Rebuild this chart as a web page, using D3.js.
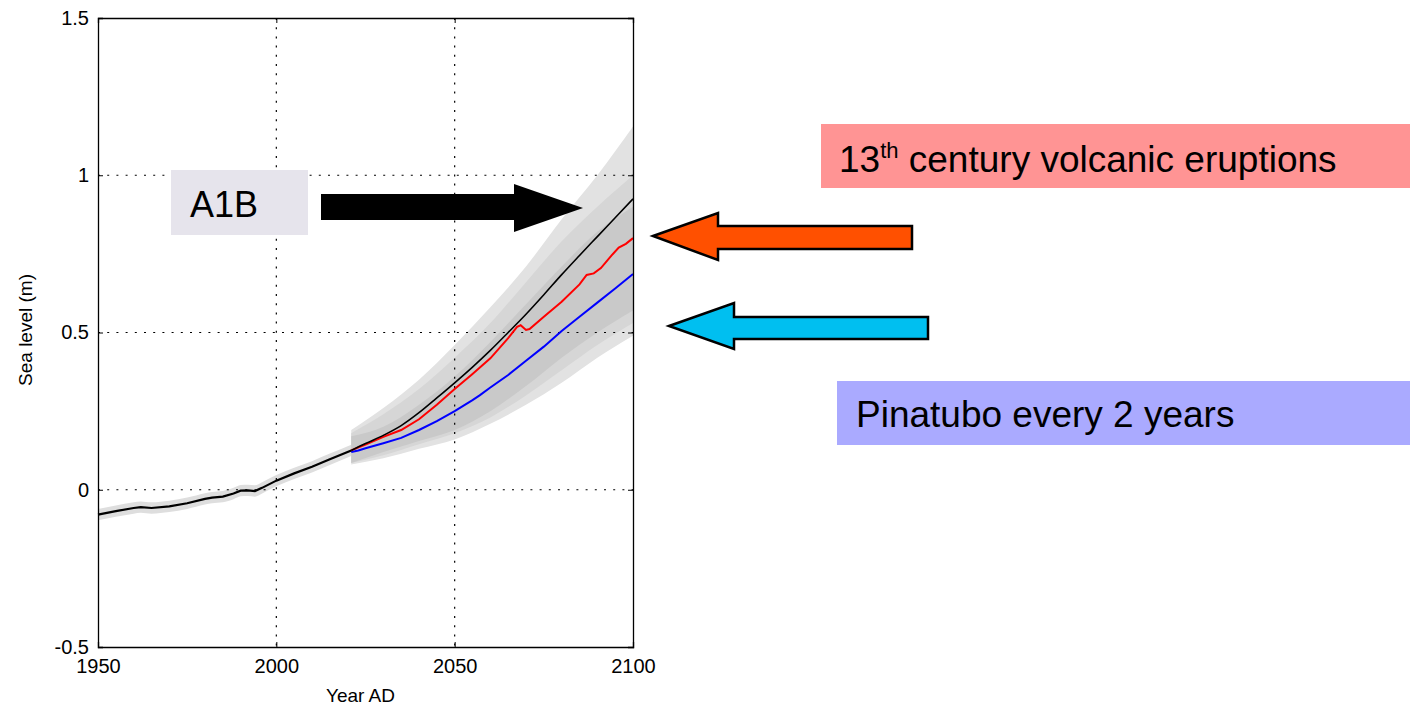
<!DOCTYPE html>
<html>
<head>
<meta charset="utf-8">
<script src="https://cdn.jsdelivr.net/npm/d3@7"></script>
<style>
  body { margin: 0; background: #fff; }
  svg { display: block; font-family: "Liberation Sans", Arial, sans-serif; }
</style>
</head>
<body>
<div class="graph"></div>
<script>
// Observed sea level (black, thick)
const histYears = [1950, 1955, 1960, 1962, 1965, 1970, 1975, 1980, 1982, 1985, 1988, 1990, 1992, 1994, 1996, 2000, 2005, 2010, 2015, 2021];
const histLevel = [-0.079, -0.068, -0.058, -0.055, -0.058, -0.053, -0.043, -0.029, -0.025, -0.022, -0.012, -0.003, -0.002, -0.004, 0.006, 0.029, 0.052, 0.073, 0.097, 0.125];
const histSpread = 0.018;

// Projections
const a1bYears = [2021, 2025, 2030, 2035, 2040, 2045, 2050, 2055, 2060, 2065, 2070, 2075, 2080, 2085, 2090, 2095, 2100];
const a1bLevel = [0.125, 0.147, 0.173, 0.204, 0.245, 0.292, 0.34, 0.39, 0.443, 0.50, 0.558, 0.62, 0.684, 0.745, 0.805, 0.865, 0.925];

const volcYears = [2021, 2025, 2030, 2035, 2040, 2045, 2050, 2055, 2060, 2065, 2067.5, 2068.5, 2070, 2071, 2075, 2080, 2085, 2087, 2089, 2091, 2094, 2096, 2098, 2100];
const volcLevel = [0.125, 0.144, 0.168, 0.19, 0.224, 0.27, 0.32, 0.368, 0.418, 0.482, 0.518, 0.523, 0.508, 0.511, 0.55, 0.598, 0.653, 0.683, 0.688, 0.705, 0.745, 0.77, 0.782, 0.80];

const pinaYears = [2021, 2023, 2025, 2030, 2035, 2040, 2045, 2050, 2055, 2057, 2060, 2065, 2070, 2075, 2080, 2085, 2090, 2095, 2100];
const pinaLevel = [0.12, 0.125, 0.132, 0.148, 0.165, 0.19, 0.218, 0.25, 0.285, 0.30, 0.325, 0.365, 0.41, 0.455, 0.505, 0.55, 0.595, 0.64, 0.686];

// Uncertainty bands
const bandYears = [2021, 2030, 2040, 2050, 2060, 2070, 2080, 2090, 2100];
const outerHi = [0.19, 0.26, 0.35, 0.46, 0.58, 0.71, 0.86, 1.00, 1.155];
const outerLo = [0.08, 0.10, 0.13, 0.16, 0.21, 0.27, 0.34, 0.42, 0.49];
const midHi = [0.18, 0.24, 0.32, 0.42, 0.53, 0.66, 0.79, 0.90, 1.00];
const midLo = [0.085, 0.11, 0.145, 0.18, 0.23, 0.30, 0.38, 0.46, 0.53];
const innerHi = [0.17, 0.20, 0.27, 0.36, 0.47, 0.59, 0.71, 0.82, 0.90];
const innerLo = [0.085, 0.12, 0.155, 0.19, 0.25, 0.33, 0.42, 0.50, 0.57];

const xTicks = [1950, 2000, 2050, 2100];
const yTicks = [-0.5, 0, 0.5, 1, 1.5];

const margin = { top: 18, left: 98 };
const width = 535;
const height = 629;

const svg = d3.select('.graph')
    .append('svg')
    .attr('width', 1410)
    .attr('height', 707);

const g = svg.append('g')
    .attr('transform', `translate(${margin.left},${margin.top})`);

const x = d3.scaleLinear().domain([1950, 2100]).range([0, width]);
const y = d3.scaleLinear().domain([-0.5, 1.5]).range([height, 0]);

// bands
const area = d3.area().x(d => x(d[0])).y0(d => y(d[1])).y1(d => y(d[2])).curve(d3.curveMonotoneX);
const zip3 = (xs, lo, hi) => xs.map((v, i) => [v, lo[i], hi[i]]);

g.append('path')
    .datum(histYears.map((v, i) => [v, histLevel[i] - histSpread, histLevel[i] + histSpread]))
    .attr('d', area).attr('fill', '#dedede');

[[outerLo, outerHi, '#e2e2e2'], [midLo, midHi, '#d6d6d6'], [innerLo, innerHi, '#c9c9c9']]
    .forEach(([lo, hi, c]) => {
        g.append('path').datum(zip3(bandYears, lo, hi)).attr('d', area).attr('fill', c);
    });

// grid
const dots = '2,7.2';
g.selectAll('.hgrid').data([0, 0.5, 1]).enter().append('line')
    .attr('x1', 0).attr('x2', width)
    .attr('y1', d => y(d)).attr('y2', d => y(d))
    .attr('stroke', '#000').attr('stroke-width', 1.2).attr('stroke-dasharray', dots);
g.selectAll('.vgrid').data([2000, 2050]).enter().append('line')
    .attr('y1', 0).attr('y2', height)
    .attr('x1', d => x(d)).attr('x2', d => x(d))
    .attr('stroke', '#000').attr('stroke-width', 1.2).attr('stroke-dasharray', dots);

// lines
const line = d3.line().x(d => x(d[0])).y(d => y(d[1]));
const zip2 = (xs, ys) => xs.map((v, i) => [v, ys[i]]);

g.append('path').datum(zip2(pinaYears, pinaLevel)).attr('d', line)
    .attr('fill', 'none').attr('stroke', '#0000ff').attr('stroke-width', 2);
g.append('path').datum(zip2(volcYears, volcLevel)).attr('d', line)
    .attr('fill', 'none').attr('stroke', '#ff0000').attr('stroke-width', 2);
g.append('path').datum(zip2(a1bYears, a1bLevel)).attr('d', line.curve(d3.curveMonotoneX))
    .attr('fill', 'none').attr('stroke', '#000').attr('stroke-width', 1.6);
g.append('path').datum(zip2(histYears, histLevel)).attr('d', d3.line().x(d => x(d[0])).y(d => y(d[1])))
    .attr('fill', 'none').attr('stroke', '#000').attr('stroke-width', 2.2);

// axes (inward ticks, box)
const tickFont = 20;
const xAxis = g.append('g').attr('transform', `translate(0,${height})`)
    .call(d3.axisBottom(x).tickValues(xTicks).tickFormat(d3.format('d')).tickSize(-5).tickPadding(12));
const xTop = g.append('g')
    .call(d3.axisTop(x).tickValues(xTicks).tickFormat('').tickSize(-5));
const yAxis = g.append('g')
    .call(d3.axisLeft(y).tickValues(yTicks).tickFormat(d => d).tickSize(-5).tickPadding(9));
const yRight = g.append('g').attr('transform', `translate(${width},0)`)
    .call(d3.axisRight(y).tickValues(yTicks).tickFormat('').tickSize(-5));

[xAxis, xTop, yAxis, yRight].forEach(a => {
    a.select('.domain').attr('stroke', '#000').attr('stroke-width', 1.3);
    a.selectAll('.tick line').attr('stroke', '#000');
    a.selectAll('text').attr('font-size', tickFont).attr('fill', '#000')
        .attr('font-family', '"Liberation Sans", Arial, sans-serif');
});

// axis titles
svg.append('text')
    .attr('x', margin.left + width / 2 - 5).attr('y', 702)
    .attr('text-anchor', 'middle').attr('font-size', 19)
    .text('Year AD');

svg.append('text')
    .attr('transform', 'translate(32,330) rotate(-90)')
    .attr('text-anchor', 'middle').attr('font-size', 19)
    .text('Sea level (m)');

// annotations
svg.append('rect').attr('x', 171).attr('y', 170).attr('width', 137).attr('height', 65).attr('fill', '#e6e4ec');
svg.append('text').attr('x', 190).attr('y', 217).attr('font-size', 36).text('A1B');

svg.append('polygon')
    .attr('points', '321,194 514,194 514,184 583,208 514,232 514,220 321,220')
    .attr('fill', '#000');

svg.append('rect').attr('x', 821).attr('y', 124).attr('width', 589).attr('height', 64).attr('fill', '#ff9494');
const t1 = svg.append('text').attr('x', 839).attr('y', 172).attr('font-size', 37);
t1.append('tspan').text('13');
t1.append('tspan').attr('font-size', 22).attr('dy', -14).text('th');
t1.append('tspan').attr('dy', 14).text(' century volcanic eruptions');

svg.append('rect').attr('x', 837).attr('y', 381).attr('width', 573).attr('height', 64).attr('fill', '#aaaaff');
svg.append('text').attr('x', 856).attr('y', 427).attr('font-size', 37).text('Pinatubo every 2 years');

svg.append('polygon')
    .attr('points', '653,236 718,213 718,226 912,226 912,249 718,249 718,260')
    .attr('fill', '#ff5000').attr('stroke', '#000').attr('stroke-width', 2.5).attr('stroke-linejoin', 'miter');

svg.append('polygon')
    .attr('points', '669,326 734,303 734,317 928,317 928,339 734,339 734,349')
    .attr('fill', '#00bff0').attr('stroke', '#000').attr('stroke-width', 2.5).attr('stroke-linejoin', 'miter');
</script>
</body>
</html>
